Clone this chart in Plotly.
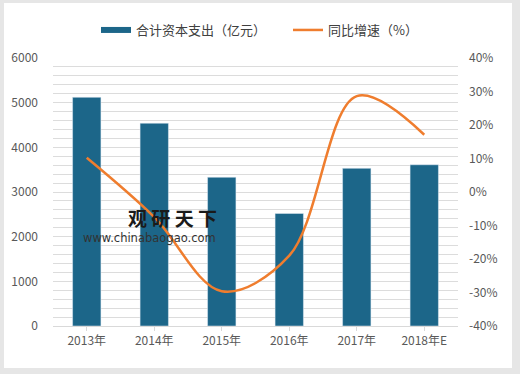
import plotly.graph_objects as go

categories = ["2013年", "2014年", "2015年", "2016年", "2017年", "2018年E"]
capex = [5120, 4540, 3330, 2520, 3530, 3610]
growth = [10.2, -7.5, -29.6, -19.0, 28.6, 17.1]
right_ticks = [-40, -30, -20, -10, 0, 10, 20, 30, 40]
right_labels = [f"{v}%" for v in right_ticks]

bar_name = "合计资本支出（亿元）"
line_name = "同比增速（%）"
BAR_COLOR = "#1c6689"
LINE_COLOR = "#ef7d2e"
FONT = "Noto Sans CJK SC"

W, H = 520, 374
L, R, T, B = 53, 62, 58, 48
pw, ph = W - L - R, H - T - B

def px_x(p):
    return (p - L) / pw

def px_y(p):
    return (H - B - p) / ph

fig = go.Figure()
fig.add_trace(go.Bar(x=categories, y=capex, marker_color=BAR_COLOR, width=0.42,
                     showlegend=False, name=bar_name))
# legend proxy for bar series
fig.add_trace(go.Scatter(x=[categories[0]], y=[None], mode="lines",
                         line=dict(color=BAR_COLOR, width=6), name=bar_name))
fig.add_trace(go.Scatter(x=categories, y=growth, yaxis="y2", mode="lines",
                         line=dict(color=LINE_COLOR, width=2.5, shape="spline", smoothing=1.0),
                         name=line_name))

fig.update_layout(
    width=W, height=H,
    margin=dict(l=L, r=R, t=T, b=B),
    paper_bgcolor="#e6e6e6",
    plot_bgcolor="#f2f2f2",
    font=dict(family=FONT, size=12, color="#595959"),
    bargap=0.58,
    showlegend=True,
    legend=dict(orientation="h", x=px_x(96), xanchor="left", y=px_y(30), yanchor="middle",
                font=dict(size=13, color="#404040"), bgcolor="rgba(0,0,0,0)",
                itemwidth=30, tracegroupgap=0, entrywidth=147, entrywidthmode="pixels"),
    xaxis=dict(showgrid=False, showline=True, linecolor="#d9d9d9", linewidth=1,
               ticks="outside", tickcolor="#d9d9d9", ticklen=4,
               tickfont=dict(size=12, color="#595959")),
    yaxis=dict(range=[0, 6000], tickmode="linear", tick0=0, dtick=1000,
               showgrid=True, gridcolor="#dcdcdc",
               gridwidth=1, zeroline=False, ticks="", ticklabelstandoff=14,
               minor=dict(tickmode="linear", tick0=0, dtick=200, showgrid=True,
                          gridcolor="#dcdcdc", gridwidth=1),
               tickfont=dict(size=12, color="#595959")),
    yaxis2=dict(range=[-40, 40], tickvals=right_ticks, ticktext=right_labels,
                overlaying="y", side="right", showgrid=False, zeroline=False,
                ticklabelstandoff=10, tickfont=dict(size=12, color="#595959")),
    shapes=[dict(type="rect", xref="paper", yref="paper", layer="below",
                 x0=px_x(4), x1=px_x(512), y0=px_y(368), y1=px_y(3),
                 fillcolor="white", line=dict(width=0))],
    annotations=[
        dict(text="<b>观 研 天 下</b>", x=px_x(126), y=px_y(217), xref="paper", yref="paper",
             xanchor="left", yanchor="middle", showarrow=False,
             font=dict(size=19, color="#1a1a1a", family=FONT)),
        dict(text="www.chinabaogao.com", x=px_x(81), y=px_y(238), xref="paper", yref="paper",
             xanchor="left", yanchor="middle", showarrow=False,
             font=dict(size=11.5, color="#333333", family="DejaVu Sans")),
    ],
)

fig.write_html("out.html")
